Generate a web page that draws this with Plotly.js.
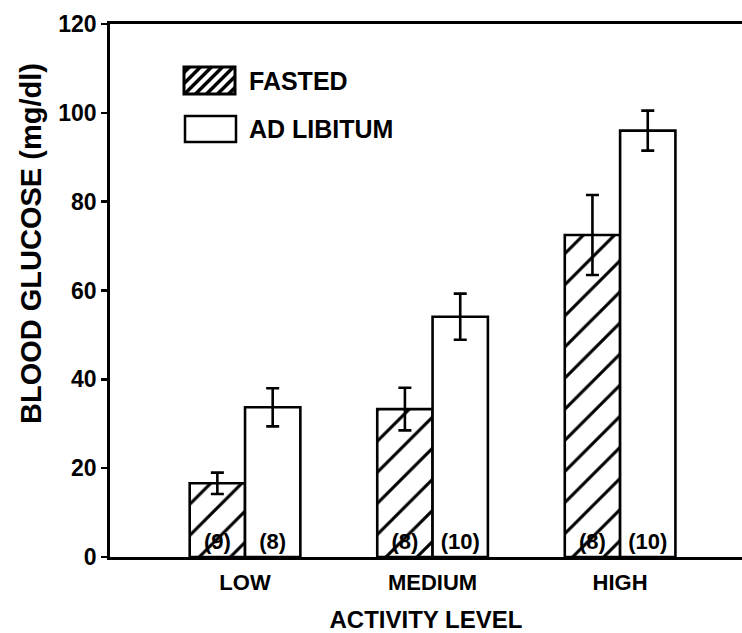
<!DOCTYPE html>
<html>
<head>
<meta charset="utf-8">
<script src="https://cdn.plot.ly/plotly-3.0.1.min.js"></script>
<style>html,body{margin:0;padding:0;background:#fff;}#chart{width:742px;height:633px;}</style>
</head>
<body>
<div id="chart"></div>
<script>
const categories = ["LOW", "MEDIUM", "HIGH"];
const fastedMean = [16.6, 33.3, 72.5];
const fastedErr = [2.4, 4.8, 9.0];
const fastedN = ["(9)", "(8)", "(8)"];
const adLibMean = [33.7, 54.1, 96.0];
const adLibErr = [4.3, 5.2, 4.5];
const adLibN = ["(8)", "(10)", "(10)"];
const yTicks = [0, 20, 40, 60, 80, 100, 120];
const seriesNames = ["FASTED", "AD LIBITUM"];

const FONT = "Liberation Sans, Arial, sans-serif";
const W = 742, H = 633;
const M = {l: 110, r: 0, t: 24, b: 76};
const PW = W - M.l - M.r, PH = H - M.t - M.b;
// pixel -> paper helpers (used for decorative legend only)
const px = x => (x - M.l) / PW;
const py = y => (H - M.b - y) / PH;

const errStyle = {type: "data", visible: true, color: "#000", thickness: 2.6, width: 6.5};
const countFont = {family: FONT, size: 22, color: "#000", weight: "bold"};
const common = {
  type: "bar",
  x: categories,
  textposition: "inside",
  insidetextanchor: "start",
  textangle: 0,
  constraintext: "none",
  textfont: countFont,
  insidetextfont: countFont,
  showlegend: false
};

const traces = [
  Object.assign({}, common, {
    name: seriesNames[0],
    y: fastedMean,
    text: fastedN,
    error_y: Object.assign({}, errStyle, {array: fastedErr}),
    marker: {
      color: "#fff",
      line: {color: "#000", width: 2.6},
      pattern: {shape: "/", fgcolor: "#000", bgcolor: "#fff", size: 22, solidity: 0.14}
    }
  }),
  Object.assign({}, common, {
    name: seriesNames[1],
    y: adLibMean,
    text: adLibN,
    error_y: Object.assign({}, errStyle, {array: adLibErr}),
    marker: {color: "#fff", line: {color: "#000", width: 2.6}}
  })
];

// Decorative legend boxes (not data marks)
const legBox1 = {x0: 184, x1: 235, y0: 67, y1: 94};
const legBox2 = {x0: 185, x1: 236, y0: 116, y1: 142};
function hatchPath(b, step) {
  let d = "";
  for (let c = b.x0 + b.y0 + step / 2; c < b.x1 + b.y1; c += step) {
    const xa = Math.max(b.x0, c - b.y1), xb = Math.min(b.x1, c - b.y0);
    if (xb <= xa) continue;
    d += `M${px(xa)},${py(c - xa)}L${px(xb)},${py(c - xb)}`;
  }
  return d;
}
const shapes = [
  {type: "rect", xref: "paper", yref: "paper", x0: px(legBox1.x0), x1: px(legBox1.x1), y0: py(legBox1.y1), y1: py(legBox1.y0),
   line: {color: "#000", width: 3}, fillcolor: "#fff"},
  {type: "path", xref: "paper", yref: "paper", path: hatchPath(legBox1, 11), line: {color: "#000", width: 3.5}},
  {type: "rect", xref: "paper", yref: "paper", x0: px(legBox2.x0), x1: px(legBox2.x1), y0: py(legBox2.y1), y1: py(legBox2.y0),
   line: {color: "#000", width: 2.5}, fillcolor: "#fff"}
];

const legFont = {family: FONT, size: 25, color: "#000", weight: "bold"};
const annotations = [
  {text: seriesNames[0], xref: "paper", yref: "paper", x: px(247), y: py(80.5), xanchor: "left", yanchor: "middle",
   showarrow: false, font: legFont},
  {text: seriesNames[1], xref: "paper", yref: "paper", x: px(247), y: py(129), xanchor: "left", yanchor: "middle",
   showarrow: false, font: legFont},
  {text: "BLOOD GLUCOSE (mg/dl)", xref: "paper", yref: "paper", x: px(31), y: py(244), xanchor: "center", yanchor: "middle",
   textangle: -90, showarrow: false, font: {family: FONT, size: 29, color: "#000", weight: "bold"}}
];

const layout = {
  width: W, height: H,
  margin: M,
  paper_bgcolor: "#fff", plot_bgcolor: "#fff",
  barmode: "group",
  bargap: 0.41,
  bargroupgap: 0,
  font: {family: FONT, color: "#000", size: 18},
  uniformtext: {mode: "show", minsize: 22},
  showlegend: false,
  shapes: shapes,
  annotations: annotations,
  xaxis: {
    type: "category",
    range: [-0.72, 2.65],
    showline: true, linecolor: "#000", linewidth: 2.8, mirror: true,
    ticks: "", showgrid: false, zeroline: false,
    ticklabelstandoff: 4,
    tickfont: {family: FONT, size: 22, color: "#000", weight: "bold"},
    title: {text: "ACTIVITY LEVEL", font: {family: FONT, size: 24, color: "#000", weight: "bold"}, standoff: 20}
  },
  yaxis: {
    range: [0, 120],
    tickvals: yTicks,
    ticktext: yTicks.map(String),
    showline: true, linecolor: "#000", linewidth: 2.8,
    ticks: "outside", ticklen: 6, tickwidth: 2.5, tickcolor: "#000",
    ticklabelstandoff: 0,
    showgrid: false, zeroline: false,
    tickfont: {family: FONT, size: 23, color: "#000", weight: "bold"}
  }
};

Plotly.newPlot("chart", traces, layout, {displayModeBar: false, staticPlot: true});
</script>
</body>
</html>
